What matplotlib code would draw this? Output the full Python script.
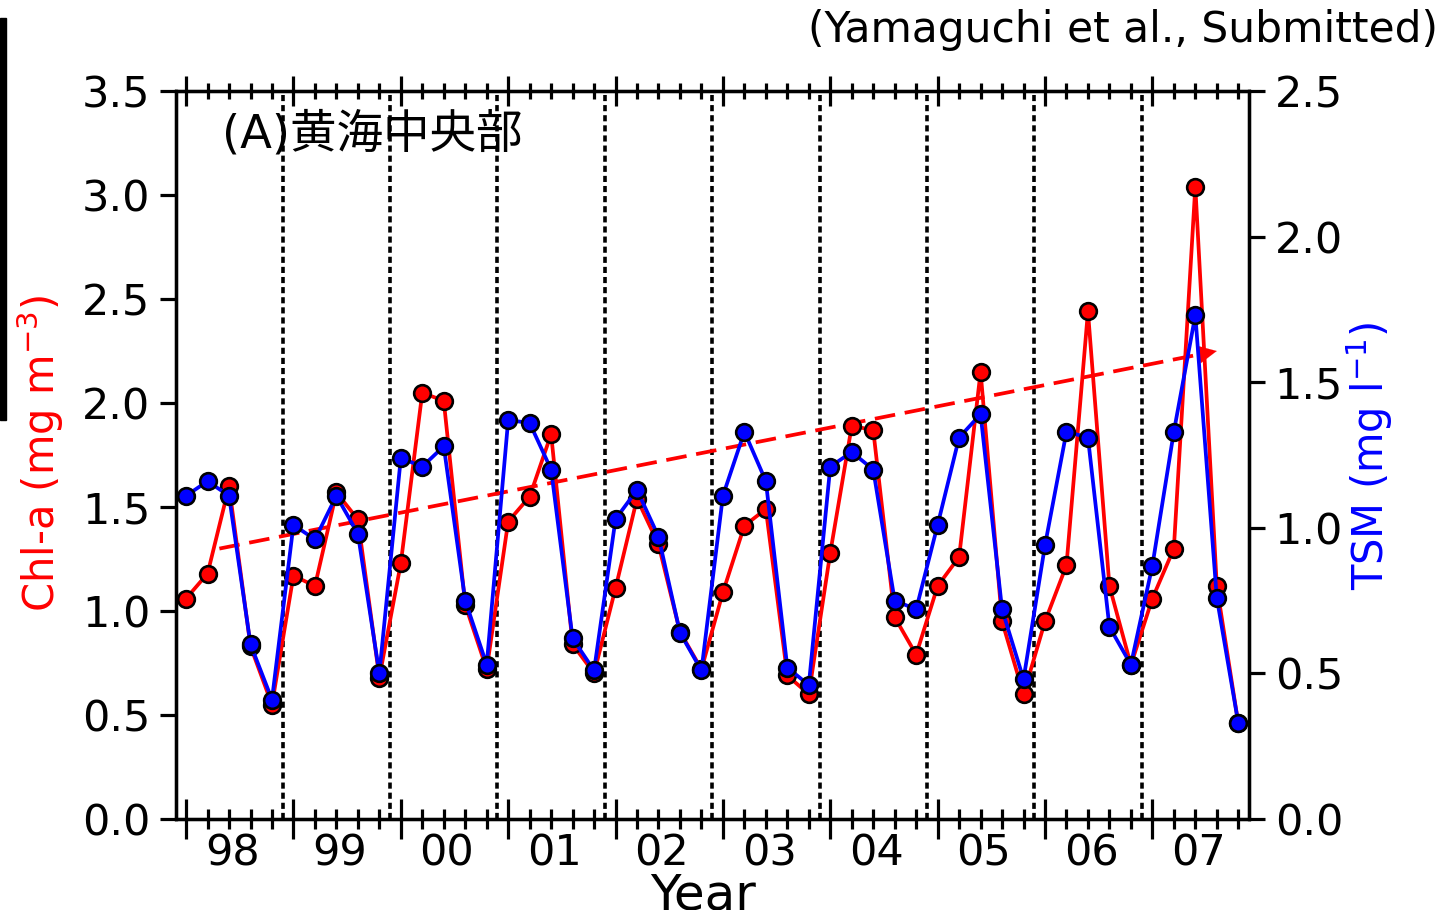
import matplotlib
matplotlib.use("Agg")
import matplotlib.pyplot as plt
from matplotlib.patches import Rectangle
from matplotlib.ticker import MultipleLocator, FormatStrFormatter

plt.rcParams['font.family'] = ['DejaVu Sans', 'Noto Sans CJK JP']

# ---- data ----
year_labels = ['98', '99', '00', '01', '02', '03', '04', '05', '06', '07']
chl = [1.06, 1.18, 1.60, 0.83, 0.55, 1.17, 1.12, 1.57, 1.44, 0.68,
       1.23, 2.05, 2.01, 1.03, 0.72, 1.43, 1.55, 1.85, 0.84, 0.70,
       1.11, 1.54, 1.32, 0.90, 0.72, 1.09, 1.41, 1.49, 0.69, 0.60,
       1.28, 1.89, 1.87, 0.97, 0.79, 1.12, 1.26, 2.15, 0.95, 0.60,
       0.95, 1.22, 2.44, 1.12, 0.74, 1.06, 1.30, 3.04, 1.12, 0.46]
tsm = [1.11, 1.16, 1.11, 0.60, 0.41, 1.01, 0.96, 1.11, 0.98, 0.50,
       1.24, 1.21, 1.28, 0.75, 0.53, 1.37, 1.36, 1.20, 0.62, 0.51,
       1.03, 1.13, 0.97, 0.64, 0.51, 1.11, 1.33, 1.16, 0.52, 0.46,
       1.21, 1.26, 1.20, 0.75, 0.72, 1.01, 1.31, 1.39, 0.72, 0.48,
       0.94, 1.33, 1.31, 0.66, 0.53, 0.87, 1.33, 1.73, 0.76, 0.33]
trend_x = [1.55, 48.0]
trend_y = [1.30, 2.25]
per_year = 5

x = list(range(len(chl)))
year_bounds = [per_year * (i + 1) - 0.5 for i in range(len(year_labels) - 1)]
year_centers = [per_year * i + 2 for i in range(len(year_labels))]

FS = 31
W, H = 1456, 910
fig = plt.figure(figsize=(W / 100, H / 100), dpi=100)
ax = fig.add_axes([176 / W, 1 - 819 / H, (1249 - 176) / W, (819 - 91) / H])
ax2 = ax.twinx()
axt = ax.twiny()

xlim = (-0.47, 49.5)
for a in (ax, ax2, axt):
    for s in a.spines.values():
        s.set_linewidth(2.3)
ax.set_xlim(*xlim)
axt.set_xlim(*xlim)
ax.set_ylim(0, 3.5)
ax2.set_ylim(0, 2.5)

# vertical dotted separators
for b in year_bounds:
    ax.axvline(b, color='black', lw=2.6, ls=(0, (1.7, 1.1)), zorder=1)

# Chl-a (red)
ax.plot(x, chl, color='#ff0000', lw=2.7, marker='o', ms=12,
        mfc='#ff0000', mec='black', mew=1.9, zorder=3)
# trend
slope = (trend_y[1] - trend_y[0]) / (trend_x[1] - trend_x[0])
ax.plot([trend_x[0], trend_x[1] - 0.6], [trend_y[0], trend_y[1] - 0.6 * slope],
        color='#ff0000', lw=2.7, ls=(0, (5.5, 2.6)), zorder=2)
ax.annotate('', xy=(trend_x[1], trend_y[1]),
            xytext=(trend_x[1] - 0.8, trend_y[1] - 0.8 * slope),
            arrowprops=dict(arrowstyle='-|>,head_length=0.65,head_width=0.32',
                            color='#ff0000', lw=0.1, mutation_scale=20,
                            shrinkA=0, shrinkB=0), zorder=2)

# TSM (blue)
ax2.plot(x, tsm, color='#0000ff', lw=2.7, marker='o', ms=12,
         mfc='#0000ff', mec='black', mew=1.9, zorder=3)

# y ticks
ax.yaxis.set_major_locator(MultipleLocator(0.5))
ax.yaxis.set_major_formatter(FormatStrFormatter('%.1f'))
ax2.yaxis.set_major_locator(MultipleLocator(0.5))
ax2.yaxis.set_major_formatter(FormatStrFormatter('%.1f'))
ax.tick_params(axis='y', direction='out', length=11.5, width=2.3, pad=7, labelsize=FS)
ax2.tick_params(axis='y', direction='out', length=11.5, width=2.3, pad=7, labelsize=FS)

# x ticks bottom
ax.xaxis.set_major_locator(MultipleLocator(per_year))
ax.xaxis.set_minor_locator(MultipleLocator(1))
ax.tick_params(axis='x', which='major', direction='inout', length=29, width=2.3,
               labelbottom=False)
ax.tick_params(axis='x', which='minor', direction='inout', length=15, width=2.3)
# x ticks top
axt.xaxis.set_major_locator(MultipleLocator(per_year))
axt.xaxis.set_minor_locator(MultipleLocator(1))
axt.tick_params(axis='x', which='major', direction='inout', length=21.5, width=2.3,
                labeltop=False)
axt.tick_params(axis='x', which='minor', direction='inout', length=11.5, width=2.3)

for xc, lab in zip(year_centers, year_labels):
    ax.text(xc + 0.15, -0.047, lab, transform=ax.get_xaxis_transform(),
            ha='center', va='center', fontsize=FS)

fig.text(703 / W, 1 - 895 / H, 'Year', ha='center', va='center', fontsize=36)
fig.text(40 / W, 1 - 454 / H, r'Chl-a (mg m$^{\mathregular{-3}}$)', rotation=90,
         ha='center', va='center', fontsize=FS - 1, color='#ff0000')
fig.text(1370 / W, 1 - 456 / H, r'TSM (mg l$^{\mathregular{-1}}$)', rotation=90,
         ha='center', va='center', fontsize=FS - 1, color='#0000ff')
fig.text(1438 / W, 1 - 30 / H, '(Yamaguchi et al., Submitted)', ha='right',
         va='center', fontsize=30.5)
fig.text(222 / W, 1 - 135 / H, '(A)黄海中央部', ha='left', va='center', fontsize=33.5)

fig.patches.append(Rectangle((0, 1 - 420 / H), 6 / W, (420 - 18) / H,
                             transform=fig.transFigure, color='black'))

fig.savefig('out.png', dpi=100)
